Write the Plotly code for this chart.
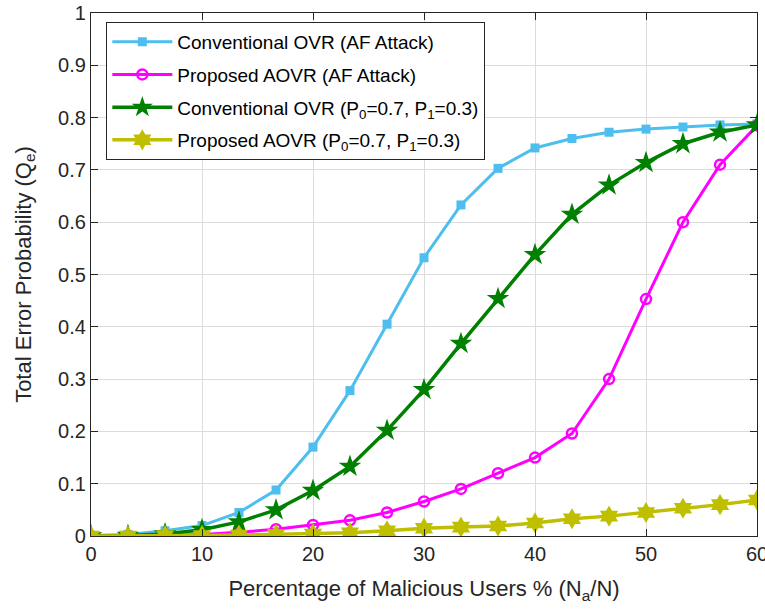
import plotly.graph_objects as go

x_vals = [0, 3.33, 6.67, 10, 13.33, 16.67, 20, 23.33, 26.67, 30, 33.33, 36.67, 40, 43.33, 46.67, 50, 53.33, 56.67, 60]
conv_af = [0.001, 0.003, 0.01, 0.02, 0.045, 0.088, 0.17, 0.278, 0.405, 0.532, 0.633, 0.703, 0.742, 0.76, 0.772, 0.778, 0.782, 0.786, 0.788]
prop_af = [0.0, 0.0, 0.001, 0.003, 0.007, 0.013, 0.021, 0.03, 0.045, 0.066, 0.09, 0.12, 0.15, 0.196, 0.3, 0.453, 0.6, 0.71, 0.785]
conv_p = [0.0, 0.001, 0.004, 0.012, 0.027, 0.05, 0.087, 0.133, 0.202, 0.28, 0.368, 0.454, 0.538, 0.615, 0.671, 0.714, 0.75, 0.772, 0.786]
prop_p = [0.0, 0.0, 0.001, 0.001, 0.002, 0.003, 0.004, 0.006, 0.01, 0.015, 0.017, 0.019, 0.025, 0.033, 0.038, 0.045, 0.053, 0.06, 0.069]

x_ticks = [0, 10, 20, 30, 40, 50, 60]
y_ticks = [0, 0.1, 0.2, 0.3, 0.4, 0.5, 0.6, 0.7, 0.8, 0.9, 1]
y_ticktext = ["0", "0.1", "0.2", "0.3", "0.4", "0.5", "0.6", "0.7", "0.8", "0.9", "1"]

names = ["Conventional OVR (AF Attack)",
         "Proposed AOVR (AF Attack)",
         "Conventional OVR (P<sub>0</sub>=0.7, P<sub>1</sub>=0.3)",
         "Proposed AOVR (P<sub>0</sub>=0.7, P<sub>1</sub>=0.3)"]

FONT = "Liberation Sans, Arial, sans-serif"

fig = go.Figure()
fig.add_trace(go.Scatter(x=x_vals, y=conv_af, name=names[0], mode="lines+markers", legendgroup="a",
                         line=dict(color="#4DBEEE", width=3),
                         marker=dict(symbol="square", size=9, color="#4DBEEE")))
fig.add_trace(go.Scatter(x=x_vals, y=prop_af, name=names[1], mode="lines+markers", legendgroup="b",
                         line=dict(color="#FF00FF", width=3),
                         marker=dict(symbol="circle-open", size=10, color="#FF00FF", line=dict(width=2.5))))
fig.add_trace(go.Scatter(x=x_vals, y=conv_p, name=names[2], mode="lines+markers", legendgroup="c",
                         line=dict(color="#008000", width=3.5),
                         marker=dict(symbol="star", size=17, color="#008000")))
fig.add_trace(go.Scatter(x=x_vals, y=prop_p, name=names[3], mode="lines+markers", legendgroup="d",
                         line=dict(color="#BFBF00", width=3.5),
                         marker=dict(symbol="hexagram", size=16, color="#BFBF00")))

axis_common = dict(showline=True, linecolor="#262626", linewidth=1.2, mirror="ticks",
                   ticks="inside", ticklen=7, tickcolor="#262626",
                   showgrid=True, gridcolor="#DCDCDC", gridwidth=1, zeroline=False,
                   ticklabeloverflow="allow", automargin=False,
                   tickfont=dict(family=FONT, size=20, color="#262626"))

fig.update_layout(
    width=765, height=611,
    margin=dict(l=91, r=8, t=13, b=75),
    plot_bgcolor="white", paper_bgcolor="white",
    font=dict(family=FONT, size=20, color="#262626"),
    xaxis=dict(range=[0, 60], tickvals=x_ticks,
               title=dict(text="Percentage of Malicious Users % (N<sub>a</sub>/N)", font=dict(size=22), standoff=16),
               **axis_common),
    yaxis=dict(range=[0, 1], tickvals=y_ticks, ticktext=y_ticktext,
               title=dict(text="Total Error Probability (Q<sub>e</sub>)", font=dict(size=22), standoff=20),
               **axis_common),
    legend=dict(x=0.023, y=0.983, xanchor="left", yanchor="top",
                bgcolor="white", bordercolor="#262626", borderwidth=1,
                font=dict(family=FONT, size=19, color="#000000"), itemwidth=60, tracegroupgap=5),
    showlegend=True,
)

fig.write_html("out.html")
